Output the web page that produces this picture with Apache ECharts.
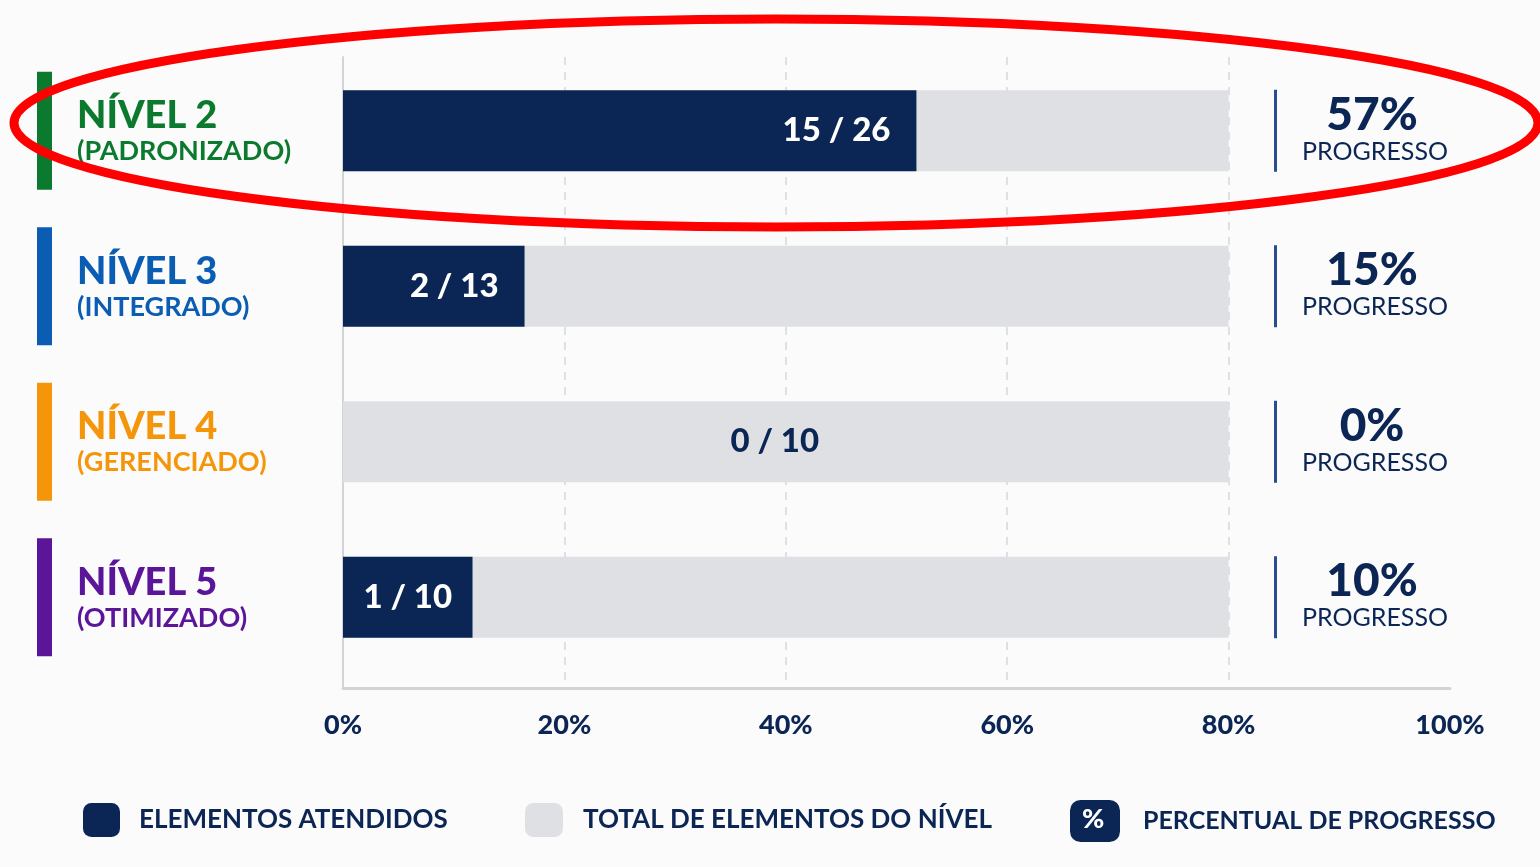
<!DOCTYPE html>
<html>
<head>
<meta charset="utf-8">
<title>Progresso por nível</title>
<script src="https://cdn.jsdelivr.net/npm/echarts@6/dist/echarts.min.js"></script>
<style>
    html, body { margin: 0; padding: 0; background: #fbfbfc; }
    #chart { width: 1540px; height: 867px; }
</style>
</head>
<body>
<div id="chart"></div>
<script>
// niveis e textos
var levels = ['NÍVEL 2', 'NÍVEL 3', 'NÍVEL 4', 'NÍVEL 5'];
var subtitles = ['(PADRONIZADO)', '(INTEGRADO)', '(GERENCIADO)', '(OTIMIZADO)'];
var levelColors = ['#0c7a2e', '#0a5db3', '#f5960a', '#5a1598'];
// elementos atendidos / total
var atendidos = [15, 2, 0, 1];
var totais = [26, 13, 10, 10];
// comprimento das barras lido no eixo (%)
var barAtendidos = [51.8, 16.4, 0, 11.7];
var barTotal = [80, 80, 80, 80];
var xTicks = [0, 20, 40, 60, 80, 100];

var NAVY = '#0b2654';
var GREY = '#dfe0e4';
var FONT = 'Lato';

var myChart = echarts.init(document.getElementById('chart'));

function pct(i) {
    return Math.floor(atendidos[i] / totais[i] * 100);
}
function ratio(i) {
    return atendidos[i] + ' / ' + totais[i];
}

//rotulos da barra escura
var darkData = barAtendidos.map(function (v, i) {
    var item = { value: v };
    if (atendidos[i] === 0) {
        item.label = { show: false };
    } else if (v < 14) {
        item.label = { position: 'inside' };
    }
    return item;
});
//rotulo na barra cinza quando nada atendido
var greyData = barTotal.map(function (v, i) {
    var item = { value: v };
    if (atendidos[i] === 0) {
        item.label = { show: true, position: 'inside', offset: [-11, 0], color: NAVY };
    }
    return item;
});

var option = {
    backgroundColor: '#fbfbfc',
    animation: false,
    textStyle: { fontFamily: FONT },
    grid: [
        { left: 343, right: 90, top: 57, bottom: 179 },
        { left: 343, right: 90, top: 53, bottom: 192 }
    ],
    xAxis: [
        {
            gridIndex: 0,
            type: 'value',
            min: xTicks[0],
            max: xTicks[xTicks.length - 1],
            interval: 20,
            axisLine: { show: true, lineStyle: { color: '#d3d4d8', width: 3 } },
            axisTick: { show: false },
            axisLabel: {
                margin: 24,
                color: NAVY,
                fontFamily: FONT,
                fontWeight: 900,
                fontSize: 27,
                formatter: function (v) {
                    return v + '%';
                }
            },
            splitLine: {
                show: true,
                showMinLine: false,
                showMaxLine: false,
                lineStyle: { color: '#d6d7db', type: [8, 7], width: 1.5 }
            }
        },
        {
            gridIndex: 1,
            type: 'value',
            min: 0,
            max: 100,
            show: false
        }
    ],
    yAxis: [
        {
            gridIndex: 0,
            type: 'value',
            axisLine: { show: true, lineStyle: { color: '#d3d4d8', width: 2 } },
            axisLabel: { show: false },
            axisTick: { show: false },
            splitLine: { show: false }
        },
        {
            gridIndex: 1,
            type: 'category',
            inverse: true,
            data: levels,
            show: false
        }
    ],
    legend: [
        {
            left: 83, top: 803, padding: 0,
            itemWidth: 37, itemHeight: 34,
            data: [{ name: 'ELEMENTOS ATENDIDOS', icon: 'roundRect' }],
            textStyle: { color: NAVY, fontFamily: FONT, fontWeight: 'bold', fontSize: 26, padding: [0, 0, 0, 14] }
        },
        {
            left: 525, top: 803, padding: 0,
            itemWidth: 38, itemHeight: 34,
            data: [{ name: 'TOTAL DE ELEMENTOS DO NÍVEL', icon: 'roundRect' }],
            textStyle: { color: NAVY, fontFamily: FONT, fontWeight: 'bold', fontSize: 26, padding: [0, 0, 0, 15] }
        },
        {
            left: 1070, top: 800, padding: 0,
            itemWidth: 50, itemHeight: 42,
            data: [{ name: 'PERCENTUAL DE PROGRESSO', icon: 'roundRect', itemStyle: { color: NAVY } }],
            textStyle: { color: NAVY, fontFamily: FONT, fontWeight: 'bold', fontSize: 25, padding: [0, 0, 0, 18] }
        }
    ],
    graphic: [
        {
            type: 'text',
            left: 1082, top: 806,
            style: { text: '%', fill: '#ffffff', font: '900 27px ' + FONT },
            z: 10
        },
        {
            type: 'ellipse',
            shape: { cx: 776, cy: 123, rx: 762, ry: 104 },
            style: { fill: 'none', stroke: '#ff0000', lineWidth: 9 },
            silent: true,
            z: 100
        }
    ],
    series: [
        {
            name: 'TOTAL DE ELEMENTOS DO NÍVEL',
            type: 'bar',
            xAxisIndex: 1,
            yAxisIndex: 1,
            barWidth: 81,
            itemStyle: { color: GREY },
            label: {
                show: false,
                fontFamily: FONT,
                fontWeight: 900,
                fontSize: 33,
                formatter: function (p) { return ratio(p.dataIndex); }
            },
            data: greyData,
            z: 1
        },
        {
            name: 'ELEMENTOS ATENDIDOS',
            type: 'bar',
            xAxisIndex: 1,
            yAxisIndex: 1,
            barWidth: 81,
            barGap: '-100%',
            itemStyle: { color: NAVY },
            label: {
                show: true,
                position: 'insideRight',
                distance: 26,
                color: '#ffffff',
                fontFamily: FONT,
                fontWeight: 900,
                fontSize: 33,
                formatter: function (p) { return ratio(p.dataIndex); }
            },
            data: darkData,
            z: 2
        },
        {
            name: 'PERCENTUAL DE PROGRESSO',
            type: 'custom',
            xAxisIndex: 1,
            yAxisIndex: 1,
            itemStyle: { color: NAVY },
            encode: { x: 0, y: 1 },
            data: levels.map(function (n, i) { return [0, i]; }),
            renderItem: function (params, api) {
                var i = params.dataIndex;
                var cy = api.coord([0, api.value(1)])[1];
                var c = levelColors[i];
                return {
                    type: 'group',
                    children: [
                        { type: 'rect', shape: { x: 37, y: cy - 59, width: 15, height: 118 }, style: { fill: c } },
                        { type: 'text', x: 77, y: cy - 15, style: { text: levels[i], fill: c, font: '900 38px ' + FONT, verticalAlign: 'middle', align: 'left' } },
                        { type: 'text', x: 77, y: cy + 21, style: { text: subtitles[i], fill: c, font: 'bold 27px ' + FONT, verticalAlign: 'middle', align: 'left' } },
                        { type: 'rect', shape: { x: 1274, y: cy - 41, width: 3, height: 82 }, style: { fill: '#2a4d8f' } },
                        { type: 'text', x: 1372, y: cy - 16, style: { text: pct(i) + '%', fill: NAVY, font: '900 46px ' + FONT, verticalAlign: 'middle', align: 'center' } },
                        { type: 'text', x: 1375, y: cy + 21, style: { text: 'PROGRESSO', fill: NAVY, font: 'normal 25px ' + FONT, verticalAlign: 'middle', align: 'center' } }
                    ]
                };
            },
            z: 3
        }
    ]
};
myChart.setOption(option);
</script>
</body>
</html>
